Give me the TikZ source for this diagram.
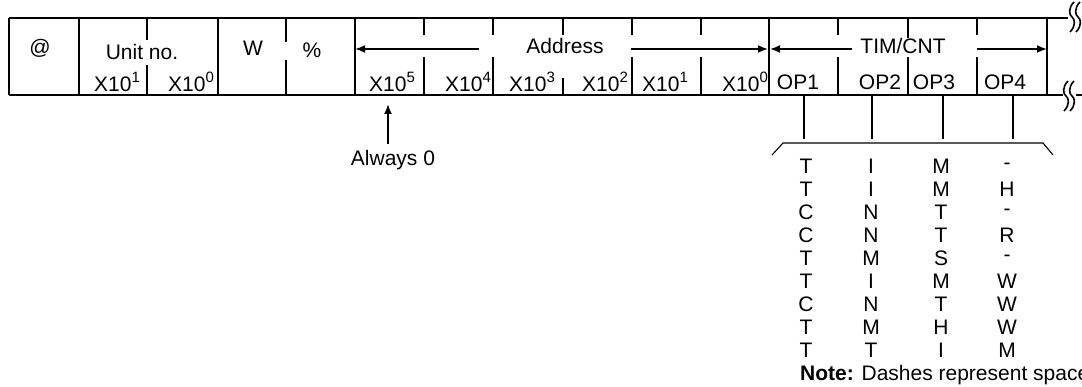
\documentclass[tikz,border=0pt]{standalone}
\usepackage{fontspec}
\setmainfont{Liberation Sans}
\usetikzlibrary{arrows.meta}
\newcommand\sps[1]{\raisebox{0.4em}{\fontsize{15}{15}\selectfont #1}}
\tikzset{
  ln/.style={line width=1.8pt},
  lbl/.style={font=\fontsize{21}{24}\selectfont, inner sep=0pt},
  arr/.style={line width=1.8pt, -{Latex[length=10pt,width=8pt]}},
  brk/.pic={
    \draw[line width=1.6pt] (2,-15) .. controls (-4,-9) and (-3,-2) .. (0,0) .. controls (3,2) and (4,9) .. (-2,15);
    \draw[line width=1.6pt] (8,-15) .. controls (2,-9) and (3,-2) .. (6,0) .. controls (9,2) and (10,9) .. (4,15);
  }
}
\begin{document}
\begin{tikzpicture}[x=1pt,y=-1pt]
\useasboundingbox (0,0) rectangle (1082,387);
\clip (0,0) rectangle (1082,387);
% frame lines
\coordinate (tl) at (9,18);
\coordinate (tr) at (1068,18);
\coordinate (bl) at (9,95);
\coordinate (br) at (1063,95);
\coordinate (br2) at (1076,95);
\coordinate (br3) at (1082,95);
\draw[ln] (tl) -- (tr);
\draw[ln] (bl) -- (br);
\draw[ln] (br2) -- (br3);
\pic at (1072,17) {brk};
\pic at (1066,96) {brk};
% full verticals
\foreach \x in {9,79,218,355,769,1047}
  \draw[ln] (\x,18) -- (\x,95);
% split verticals: x, top end, lower start
\foreach \x/\a/\b in {147/40/65, 286/42/60, 424/35/57, 493/35/57, 563/35/78, 632/35/57, 701/35/57, 838/35/57, 908/38/57, 977/35/57}
  \draw[ln] (\x,18) -- (\x,\a) (\x,\b) -- (\x,95);
% header texts
\node[lbl] (at) at (40,48) {@};
\node[lbl] (unit) at (142,52) {Unit no.};
\node[lbl] (u1) at (117,82) {X10\sps{1}};
\node[lbl] (u0) at (191,82) {X10\sps{0}};
\node[lbl] (w) at (253,48) {W};
\node[lbl] (pc) at (312,50) {\%};
\node[lbl] (addr) at (565,46) {Address};
\node[lbl] (a5) at (392,82) {X10\sps{5}};
\node[lbl] (a4) at (468,82) {X10\sps{4}};
\node[lbl] (a3) at (532,82) {X10\sps{3}};
\node[lbl] (a2) at (605,82) {X10\sps{2}};
\node[lbl] (a1) at (665,82) {X10\sps{1}};
\node[lbl] (a0) at (745,82) {X10\sps{0}};
\node[lbl] (tim) at (903,46) {TIM/CNT};
\node[lbl] (op1) at (798,82) {OP1};
\node[lbl] (op2) at (880,82) {OP2};
\node[lbl] (op3) at (934,82) {OP3};
\node[lbl] (op4) at (1005,82) {OP4};
% dimension arrows
\coordinate (adl) at (479,49);
\coordinate (adle) at (355,49);
\coordinate (adr) at (631,49);
\coordinate (adre) at (768,49);
\coordinate (tcl) at (852,49);
\coordinate (tcle) at (770,49);
\coordinate (tcr) at (977,49);
\coordinate (tcre) at (1047,49);
\draw[arr] (adl) -- (adle);
\draw[arr] (adr) -- (adre);
\draw[arr] (tcl) -- (tcle);
\draw[arr] (tcr) -- (tcre);
% always 0
\node[lbl] (alw) at (393,160) {Always 0};
\coordinate (alwt) at (388,104);
\draw[arr] (388,144) -- (alwt);
% ticks below
\foreach \x in {804,872,943,1013}
  \draw[ln] (\x,95) -- (\x,139);
% brace
\coordinate (b1) at (772,155);
\coordinate (b2) at (783,143);
\coordinate (b3) at (1043,143);
\coordinate (b4) at (1053,155);
\draw[line width=1.1pt] (b1) -- (b2) -- (b3) -- (b4);
% letter table
\foreach \r/\p/\q/\s/\t in {0/T/I/M/-, 1/T/I/M/H, 2/C/N/T/-, 3/C/N/T/R, 4/T/M/S/-, 5/T/I/M/W, 6/C/N/T/W, 7/T/M/H/W, 8/T/T/I/M} {
  \node[lbl] (l1-\r) at (806,166+23*\r) {\p};
  \node[lbl] (l2-\r) at (871,166+23*\r) {\q};
  \node[lbl] (l3-\r) at (941,166+23*\r) {\s};
  \node[lbl] (l4-\r) at (1007,166+23*\r) {\t};
}
\node[lbl, anchor=west] (note) at (800,375) {\textbf{Note:} Dashes represent space};
\end{tikzpicture}
\end{document}
